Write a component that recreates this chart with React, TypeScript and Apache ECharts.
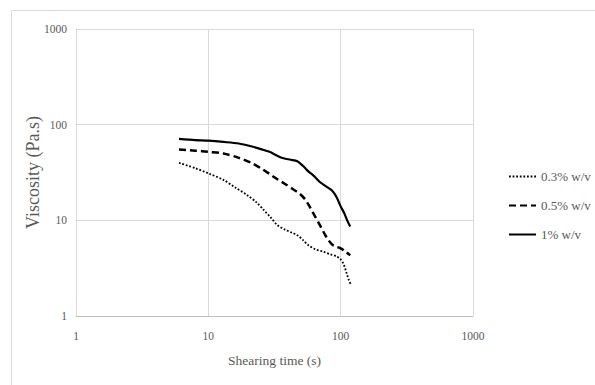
import React, { useEffect, useRef } from "react";
import * as echarts from "echarts";

const seriesNames = ["0.3% w/v", "0.5% w/v", "1% w/v"];

const xLow = [6, 8, 10, 13, 16, 19.5, 23, 26, 30, 33, 38, 43, 47, 52, 57, 64, 74, 84, 93, 100, 105, 111, 115, 120];
const yLow = [40, 35, 31, 26.5, 22, 18.5, 15.5, 13, 10.5, 9, 8, 7.4, 7, 6.2, 5.5, 5, 4.7, 4.4, 4.2, 3.9, 3.5, 2.8, 2.4, 2.1];

const xMid = [6, 8, 10, 13, 17, 21, 25, 29, 33, 38, 44, 49, 54, 59, 64, 70, 78, 86, 93, 100, 109, 118];
const yMid = [55, 53.5, 52, 50, 45, 40, 35, 30.5, 27, 24, 21, 19, 16.5, 13.5, 11, 8.8, 6.7, 5.6, 5.3, 5.1, 4.7, 4.3];

const xHigh = [6, 8, 10, 13, 17, 21, 25, 29, 33, 37, 42, 47, 52, 57, 63, 70, 78, 86, 93, 100, 106, 112, 118];
const yHigh = [71, 69, 68, 66, 63.5, 59.5, 55.5, 52, 47.5, 44.5, 43, 41.5, 37, 32.5, 29, 25, 22.5, 20.5, 17.5, 14, 12, 10, 8.6];

const axisTicks = [1, 10, 100, 1000];

const FONT = "'Liberation Serif', 'Times New Roman', serif";

function pairs(xs: number[], ys: number[]) {
  return xs.map((x, i) => [x, ys[i]]);
}

export default function App() {
  const ref = useRef<HTMLDivElement>(null);
  useEffect(() => {
    if (!ref.current) return;
    const chart = echarts.init(ref.current, undefined, { renderer: "svg" });
    const axisCommon = {
      type: "log" as const,
      logBase: 10,
      min: axisTicks[0],
      max: axisTicks[axisTicks.length - 1],
      nameLocation: "middle" as const,
      nameMoveOverlap: false,
      axisTick: { show: false },
      minorTick: { show: false },
      splitLine: { show: true, lineStyle: { color: "#d9d9d9", width: 1 } },
    };
    const labelStyle = {
      fontFamily: FONT,
      fontSize: 11.5,
      color: "#595959",
      formatter: (v: number) => String(Math.round(v)),
    };
    chart.setOption({
      animation: false,
      backgroundColor: "#ffffff",
      graphic: [
        {
          type: "rect",
          shape: { x: 11.5, y: 10.5, width: 700, height: 500 },
          style: { fill: "none", stroke: "#d9d9d9", lineWidth: 1 },
          silent: true,
        },
      ],
      grid: { left: 76, right: 122, top: 29, bottom: 69, containLabel: false },
      legend: {
        orient: "vertical",
        left: 503,
        top: 165,
        itemWidth: 27,
        itemHeight: 14,
        itemGap: 16,
        itemStyle: { opacity: 0 },
        textStyle: { fontFamily: FONT, fontSize: 13, color: "#595959" },
        data: seriesNames,
      },
      xAxis: {
        ...axisCommon,
        name: "Shearing time (s)",
        nameGap: 37,
        nameTextStyle: { fontFamily: FONT, fontSize: 13.5, color: "#595959" },
        axisLine: { show: true, lineStyle: { color: "#bfbfbf", width: 1 } },
        axisLabel: { ...labelStyle, margin: 14 },
      },
      yAxis: {
        ...axisCommon,
        name: "Viscosity (Pa.s)",
        nameGap: 34,
        nameTextStyle: { fontFamily: FONT, fontSize: 18, color: "#595959" },
        axisLine: { show: true, lineStyle: { color: "#d9d9d9", width: 1 } },
        axisLabel: { ...labelStyle, margin: 9 },
      },
      series: [
        {
          name: seriesNames[0],
          type: "line",
          data: pairs(xLow, yLow),
          symbol: "none",
          smooth: 0.3,
          lineStyle: { color: "#000", width: 1.8, type: [1.8, 1.8] },
          itemStyle: { color: "#000" },
        },
        {
          name: seriesNames[1],
          type: "line",
          data: pairs(xMid, yMid),
          symbol: "none",
          smooth: 0.3,
          lineStyle: { color: "#000", width: 2.5, type: [7, 4] },
          itemStyle: { color: "#000" },
        },
        {
          name: seriesNames[2],
          type: "line",
          data: pairs(xHigh, yHigh),
          symbol: "none",
          smooth: 0.3,
          lineStyle: { color: "#000", width: 2.2, type: "solid" },
          itemStyle: { color: "#000" },
        },
      ],
    });
    return () => chart.dispose();
  }, []);
  return (
    <div
      ref={ref}
      style={{ position: "fixed", left: 0, top: 0, width: 595, height: 385, background: "#fff" }}
    />
  );
}
